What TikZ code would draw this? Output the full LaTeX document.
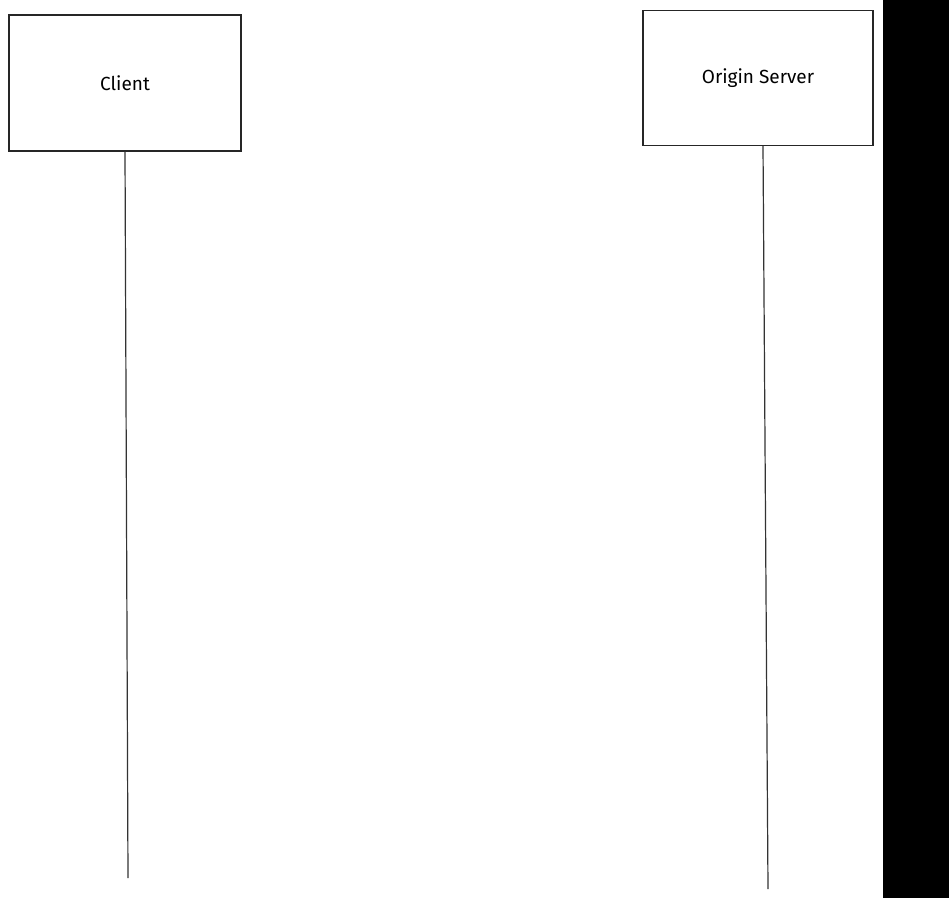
\documentclass[tikz,border=0pt]{standalone}
\usepackage{fontspec}
\setmainfont{Fira Sans}
\begin{document}
\begin{tikzpicture}[x=1pt,y=-1pt,
  actor/.style={draw=black!85, line width=1.2pt, fill=white, inner sep=0pt, font=\fontsize{19}{22}\selectfont},
  lifeline/.style={draw=black!80, line width=1.2pt}]
\useasboundingbox (0,0) rectangle (949,898);
\fill[white] (0,0) rectangle (949,898);
\fill[black] (883,0) rectangle (949,898);
\node[actor, minimum width=232pt, minimum height=136pt] (client) at (125,83) {Client};
\node[actor, minimum width=230pt, minimum height=135pt] (server) at (758,78) {Origin Server};
\coordinate (cend) at (128,878);
\coordinate (send) at (768,889);
\draw[lifeline] (client.south) -- (cend);
\draw[lifeline] ([xshift=5pt]server.south) -- (send);
\end{tikzpicture}
\end{document}
